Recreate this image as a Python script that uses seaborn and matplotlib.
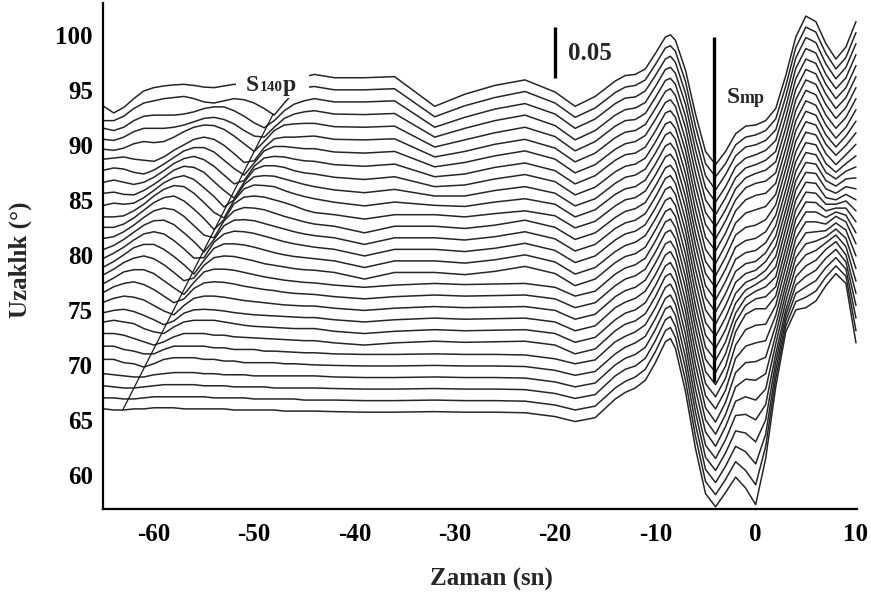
import matplotlib
matplotlib.use("Agg")
import matplotlib.pyplot as plt
from matplotlib.patches import Rectangle
import pandas as pd
import seaborn as sns

times = [-65, -64, -63, -62, -61, -60, -59, -58, -57, -56, -55, -54, -53, -52, -51, -50, -49, -48, -47, -46, -45, -44,
         -42, -39, -36, -32, -29, -26, -23, -20, -18, -16,
         -14, -13, -12, -11, -10, -9, -8.5, -8, -7, -6, -5, -4, -3, -2, -1, 0, 1, 2, 3, 4, 5, 6, 7, 8, 9, 10]

distances = list(range(66, 95))

# trace deflections (in plotted degrees) at each time
amp_66 = [0.0, -0.1, -0.1, 0.0, 0.0, 0.1, 0.1, 0.1, 0.0, 0.0, 0.0, 0.0, 0.0, -0.1, -0.1, -0.1, -0.1, -0.1, -0.2, -0.2, -0.2, -0.2,
          -0.25, -0.3, -0.3, -0.25, -0.3, -0.3, -0.35, -0.7, -1.15, -0.8,
          0.9, 1.5, 1.9, 2.6, 4.2, 6.1, 6.4, 5.5, 1.6, -3.6, -7.7, -8.9, -7.6, -6.2, -7.2, -8.7, -4.5, 2.0, 7.0, 9.0, 9.2, 9.8, 11.2, 12.3, 11.4, 6.0]
amp_67 = [0.0, 0.0, -0.1, -0.1, 0.0, 0.1, 0.1, 0.1, 0.1, 0.1, 0.1, 0.0, 0.0, 0.0, 0.0, -0.1, -0.1, -0.1, -0.1, -0.1, -0.2, -0.2,
          -0.2, -0.25, -0.25, -0.2, -0.25, -0.25, -0.3, -0.65, -1.1, -0.75,
          0.9, 1.5, 1.9, 2.6, 4.2, 6.1, 6.4, 5.5, 1.6, -3.5, -7.6, -8.8, -7.4, -5.8, -6.6, -7.9, -4.4, 1.75, 6.5, 8.75, 9.15, 9.7, 11.0, 12.0, 11.05, 6.1]
amp_68 = [0.1, 0.0, -0.1, -0.1, 0.0, 0.1, 0.2, 0.2, 0.2, 0.2, 0.1, 0.1, 0.1, 0.0, 0.0, 0.0, 0.0, -0.1, -0.1, -0.1, -0.1, -0.1,
          -0.15, -0.2, -0.2, -0.15, -0.2, -0.2, -0.25, -0.6, -1.05, -0.7,
          1.0, 1.6, 1.9, 2.6, 4.2, 6.1, 6.4, 5.5, 1.7, -3.4, -7.5, -8.7, -7.2, -5.4, -5.9, -7.0, -4.3, 1.5, 6.0, 8.5, 9.1, 9.65, 10.85, 11.75, 10.7, 6.25]
amp_69 = [0.2, 0.1, 0.0, -0.1, -0.1, 0.1, 0.2, 0.3, 0.3, 0.3, 0.2, 0.2, 0.1, 0.1, 0.1, 0.0, 0.0, 0.0, 0.0, 0.0, 0.0, 0.0,
          -0.1, -0.15, -0.15, -0.1, -0.15, -0.15, -0.2, -0.55, -1.0, -0.65,
          1.0, 1.6, 1.95, 2.6, 4.2, 6.1, 6.35, 5.5, 1.7, -3.3, -7.4, -8.6, -7.0, -5.0, -5.2, -6.0, -4.0, 1.25, 5.5, 8.25, 9.05, 9.6, 10.7, 11.5, 10.35, 6.4]
amp_70 = [0.5, 0.5, 0.2, 0.1, -0.2, 0.1, 0.5, 0.65, 0.65, 0.65, 0.5, 0.5, 0.35, 0.35, 0.2, 0.2, 0.2, 0.2, 0.1, 0.1, 0.05, 0.0,
          -0.05, -0.1, -0.1, -0.05, -0.1, -0.1, -0.15, -0.5, -0.95, -0.6,
          1.0, 1.6, 2.0, 2.6, 4.2, 6.05, 6.35, 5.5, 1.8, -3.3, -7.3, -8.5, -6.8, -4.6, -4.5, -5.0, -3.6, 1.0, 5.0, 8.0, 9.0, 9.5, 10.5, 11.2, 10.0, 6.5]
amp_71 = [0.7, 0.7, 0.4, 0.25, 0.0, 0.0, 0.4, 0.7, 0.7, 0.7, 0.7, 0.55, 0.55, 0.4, 0.4, 0.4, 0.25, 0.25, 0.2, 0.15, 0.1, 0.1,
          0.0, -0.05, -0.05, 0.0, -0.05, -0.05, -0.1, -0.45, -0.9, -0.55,
          1.1, 1.6, 2.0, 2.65, 4.2, 6.05, 6.35, 5.5, 1.8, -3.2, -7.1, -8.4, -6.6, -4.3, -3.9, -4.2, -3.2, 0.9, 4.75, 7.9, 9.0, 9.4, 10.1, 10.8, 9.75, 6.6]
amp_72 = [0.85, 0.85, 0.7, 0.4, 0.1, -0.2, 0.1, 0.55, 0.85, 0.85, 0.85, 0.7, 0.7, 0.55, 0.5, 0.45, 0.4, 0.35, 0.3, 0.25, 0.2, 0.2,
          0.0, -0.2, 0.0, 0.15, 0.05, 0.1, 0.15, -0.2, -1.0, -0.55,
          1.1, 1.7, 2.0, 2.65, 4.2, 6.05, 6.3, 5.5, 1.9, -3.1, -7.0, -8.3, -6.5, -4.0, -3.3, -3.4, -2.8, 0.75, 4.5, 7.75, 9.0, 9.25, 9.65, 10.35, 9.5, 6.75]
amp_73 = [0.9, 1.05, 0.9, 0.75, 0.3, 0.0, -0.15, 0.45, 0.9, 1.05, 1.05, 1.05, 0.9, 0.75, 0.6, 0.5, 0.45, 0.4, 0.35, 0.3, 0.3, 0.3,
          0.05, -0.15, 0.05, 0.2, 0.1, 0.15, 0.2, -0.15, -0.95, -0.5,
          1.1, 1.7, 2.0, 2.65, 4.2, 6.0, 6.3, 5.5, 1.9, -3.0, -6.9, -8.2, -6.4, -3.7, -2.8, -2.7, -2.3, 0.6, 4.25, 7.6, 9.0, 9.1, 9.2, 9.9, 9.25, 6.9]
amp_74 = [0.75, 0.95, 1.05, 0.85, 0.5, 0.1, -0.35, 0.0, 0.7, 1.0, 1.05, 1.0, 0.9, 0.75, 0.65, 0.55, 0.5, 0.45, 0.4, 0.35, 0.3, 0.3,
          0.1, -0.1, 0.1, 0.25, 0.15, 0.2, 0.25, -0.1, -0.9, -0.45,
          1.2, 1.7, 2.05, 2.7, 4.2, 6.0, 6.3, 5.5, 1.9, -2.9, -6.8, -8.0, -6.3, -3.4, -2.3, -2.0, -1.8, 0.5, 4.0, 7.5, 9.0, 9.0, 8.8, 9.5, 9.0, 7.0]
amp_75 = [0.7, 1.05, 1.25, 1.15, 0.9, 0.4, -0.1, -0.45, 0.4, 1.05, 1.25, 1.25, 1.15, 1.0, 0.85, 0.75, 0.65, 0.55, 0.45, 0.4, 0.35, 0.35,
          0.15, -0.05, 0.15, 0.3, 0.2, 0.25, 0.3, -0.05, -0.85, -0.4,
          1.2, 1.75, 2.05, 2.7, 4.25, 6.0, 6.25, 5.5, 2.0, -2.8, -6.7, -7.9, -6.2, -3.2, -1.8, -1.4, -1.3, 0.4, 3.9, 7.4, 8.9, 8.9, 8.4, 8.9, 8.6, 7.0]
amp_76 = [0.6, 1.1, 1.4, 1.55, 1.3, 0.85, 0.25, -0.35, 0.0, 0.95, 1.45, 1.55, 1.5, 1.35, 1.15, 1.0, 0.85, 0.75, 0.6, 0.5, 0.45, 0.4,
          0.2, 0.0, 0.2, 0.35, 0.25, 0.3, 0.35, 0.0, -0.8, -0.35,
          1.2, 1.8, 2.1, 2.7, 4.25, 6.0, 6.25, 5.5, 2.0, -2.7, -6.6, -7.8, -6.1, -3.0, -1.4, -0.9, -0.9, 0.25, 3.75, 7.25, 8.8, 8.75, 8.0, 8.25, 8.25, 7.0]
amp_77 = [0.4, 0.9, 1.45, 1.65, 1.65, 1.3, 0.65, 0.0, -0.6, 0.5, 1.45, 1.7, 1.7, 1.6, 1.4, 1.2, 1.0, 0.85, 0.7, 0.6, 0.5, 0.45,
          0.25, 0.05, 0.25, 0.4, 0.3, 0.35, 0.4, 0.05, -0.75, -0.3,
          1.25, 1.8, 2.1, 2.7, 4.25, 6.0, 6.25, 5.5, 2.1, -2.7, -6.5, -7.7, -6.0, -3.1, -1.6, -1.0, -0.8, 0.1, 3.6, 7.1, 8.7, 8.6, 7.6, 7.6, 7.9, 7.0]
amp_78 = [0.2, 0.7, 1.3, 1.7, 1.9, 1.65, 1.1, 0.4, -0.35, -0.1, 1.05, 1.75, 1.9, 1.85, 1.65, 1.45, 1.2, 1.05, 0.9, 0.75, 0.65, 0.6,
          0.4, -0.2, 0.4, 0.4, 0.2, 0.5, 0.95, 0.3, -0.8, -0.2,
          1.3, 1.85, 2.1, 2.7, 4.25, 5.95, 6.2, 5.5, 2.1, -2.6, -6.4, -7.6, -5.9, -3.3, -1.9, -1.3, -0.9, 0.0, 3.5, 7.0, 8.6, 8.5, 7.2, 7.0, 7.5, 7.0]
amp_79 = [-0.1, 0.4, 1.0, 1.65, 1.95, 1.95, 1.5, 0.85, 0.1, -0.75, 0.5, 1.6, 2.0, 2.0, 1.9, 1.7, 1.45, 1.2, 1.0, 0.85, 0.75, 0.65,
          0.45, -0.15, 0.45, 0.45, 0.25, 0.55, 1.0, 0.35, -0.75, -0.15,
          1.3, 1.85, 2.15, 2.75, 4.25, 5.95, 6.2, 5.5, 2.2, -2.5, -6.3, -7.5, -5.8, -3.4, -2.2, -1.7, -1.1, -0.1, 3.4, 6.9, 8.5, 8.4, 7.0, 6.6, 7.2, 7.0]
amp_80 = [-0.3, 0.15, 0.7, 1.35, 1.9, 2.1, 1.9, 1.3, 0.55, -0.3, -0.25, 1.15, 1.9, 2.15, 2.1, 1.95, 1.7, 1.45, 1.2, 1.0, 0.85, 0.7,
          0.5, -0.1, 0.5, 0.5, 0.3, 0.6, 1.05, 0.4, -0.7, -0.1,
          1.35, 1.9, 2.15, 2.75, 4.25, 5.95, 6.2, 5.5, 2.2, -2.4, -6.15, -7.4, -5.7, -3.5, -2.5, -2.1, -1.4, -0.15, 3.25, 6.75, 8.4, 8.25, 6.75, 6.25, 6.9, 7.0]
amp_81 = [-0.5, -0.15, 0.4, 1.05, 1.7, 2.1, 2.15, 1.75, 1.0, 0.2, -0.75, 0.4, 1.65, 2.15, 2.2, 2.1, 1.85, 1.6, 1.35, 1.1, 0.9, 0.75,
          0.55, -0.05, 0.55, 0.55, 0.35, 0.65, 1.1, 0.45, -0.65, -0.05,
          1.4, 1.9, 2.15, 2.75, 4.25, 5.95, 6.2, 5.5, 2.2, -2.3, -6.0, -7.3, -5.6, -3.5, -2.7, -2.4, -1.6, -0.2, 3.1, 6.6, 8.3, 8.1, 6.5, 5.9, 6.6, 7.0]
amp_82 = [-0.5, -0.35, 0.1, 0.7, 1.4, 2.0, 2.25, 2.1, 1.5, 0.65, -0.2, -0.45, 1.1, 2.0, 2.3, 2.25, 2.1, 1.8, 1.5, 1.25, 1.0, 0.8,
          0.6, 0.0, 0.6, 0.6, 0.4, 0.7, 1.15, 0.5, -0.6, 0.0,
          1.4, 1.95, 2.2, 2.75, 4.25, 5.9, 6.15, 5.5, 2.3, -2.2, -5.9, -7.2, -5.5, -3.5, -2.8, -2.6, -1.8, -0.3, 3.0, 6.5, 8.2, 8.0, 6.3, 5.5, 6.3, 7.0]
amp_83 = [-0.5, -0.5, -0.2, 0.35, 1.05, 1.75, 2.2, 2.35, 1.9, 1.15, 0.3, -0.7, 0.2, 1.65, 2.25, 2.35, 2.25, 2.0, 1.75, 1.45, 1.1, 0.85,
          0.65, 0.25, 0.65, 0.65, 0.45, 0.75, 1.0, 0.55, -0.55, 0.05,
          1.45, 2.0, 2.2, 2.8, 4.25, 5.9, 6.15, 5.5, 2.3, -2.1, -5.8, -7.1, -5.4, -3.4, -2.8, -2.6, -1.9, -0.35, 2.9, 6.4, 8.15, 7.9, 6.2, 5.2, 6.1, 7.05]
amp_84 = [-0.55, -0.55, -0.45, 0.0, 0.6, 1.35, 1.95, 2.3, 2.2, 1.6, 0.75, -0.15, -0.65, 0.95, 2.0, 2.35, 2.3, 2.2, 1.85, 1.55, 1.3, 1.1,
          0.78, 0.45, 0.8, 0.5, 0.4, 0.8, 1.1, 0.6, -0.55, 0.1,
          1.5, 2.0, 2.2, 2.8, 4.25, 5.9, 6.15, 5.5, 2.4, -2.1, -5.7, -7.0, -5.3, -3.3, -2.7, -2.5, -1.9, -0.4, 2.85, 6.35, 8.1, 7.8, 6.05, 5.05, 5.95, 7.1]
amp_85 = [-0.5, -0.3, -0.4, -0.3, 0.2, 0.85, 1.55, 2.0, 2.2, 1.85, 1.1, 0.3, -0.65, 0.0, 1.4, 2.1, 2.2, 2.15, 1.9, 1.65, 1.4, 1.2,
          0.9, 0.65, 0.95, 0.35, 0.35, 0.85, 1.2, 0.6, -0.55, 0.1,
          1.5, 2.05, 2.25, 2.8, 4.25, 5.9, 6.15, 5.5, 2.4, -2.0, -5.6, -6.9, -5.2, -3.2, -2.5, -2.3, -1.8, -0.45, 2.8, 6.3, 8.05, 7.7, 5.9, 4.8, 5.8, 7.15]
amp_86 = [-0.4, -0.3, -0.5, -0.55, -0.15, 0.4, 1.05, 1.7, 2.05, 1.95, 1.5, 0.65, -0.15, -0.85, 0.6, 1.75, 2.1, 2.1, 1.95, 1.65, 1.45, 1.35,
          1.05, 0.85, 1.1, 0.2, 0.35, 0.9, 1.3, 0.65, -0.55, 0.15,
          1.55, 2.05, 2.25, 2.8, 4.25, 5.9, 6.1, 5.5, 2.5, -1.9, -5.5, -6.8, -5.1, -3.1, -2.2, -1.9, -1.6, -0.5, 2.7, 6.2, 8.0, 7.6, 5.8, 4.6, 5.6, 7.2]
amp_87 = [-0.4, -0.2, -0.4, -0.6, -0.4, 0.05, 0.65, 1.3, 1.75, 1.95, 1.65, 1.05, 0.25, -0.55, -0.25, 1.05, 1.8, 1.95, 1.9, 1.7, 1.55, 1.5,
          1.2, 1.05, 1.25, 0.1, 0.35, 0.95, 1.35, 0.65, -0.55, 0.2,
          1.6, 2.1, 2.25, 2.8, 4.25, 5.9, 6.1, 5.5, 2.5, -1.8, -5.4, -6.65, -5.0, -3.0, -2.0, -1.6, -1.4, -0.5, 2.65, 6.15, 7.95, 7.55, 5.7, 4.5, 5.5, 7.2]
amp_88 = [-0.3, -0.1, -0.2, -0.5, -0.65, -0.3, 0.25, 0.85, 1.45, 1.75, 1.75, 1.35, 0.6, -0.15, -0.75, 0.35, 1.45, 1.85, 1.85, 1.75, 1.65, 1.65,
          1.35, 1.25, 1.4, 0.0, 0.4, 1.0, 1.45, 0.7, -0.55, 0.2,
          1.6, 2.1, 2.3, 2.85, 4.3, 5.85, 6.1, 5.5, 2.5, -1.7, -5.25, -6.55, -4.9, -3.0, -1.9, -1.5, -1.3, -0.55, 2.6, 6.1, 7.9, 7.5, 5.65, 4.4, 5.4, 7.2]
amp_89 = [-0.3, -0.2, -0.1, -0.3, -0.4, -0.5, -0.1, 0.5, 1.0, 1.5, 1.7, 1.5, 0.95, 0.2, -0.6, -0.45, 0.75, 1.55, 1.7, 1.7, 1.75, 1.8,
          1.5, 1.45, 1.55, -0.1, 0.4, 1.05, 1.5, 0.7, -0.55, 0.25,
          1.65, 2.15, 2.3, 2.85, 4.3, 5.85, 6.1, 5.5, 2.6, -1.6, -5.15, -6.45, -4.9, -3.0, -2.0, -1.6, -1.3, -0.55, 2.55, 6.05, 7.85, 7.45, 5.6, 4.3, 5.3, 7.2]
amp_90 = [-0.4, -0.5, -0.3, 0.1, 0.3, 0.2, 0.3, 0.7, 1.2, 1.6, 1.8, 1.75, 1.4, 0.8, 0.1, -0.6, 0.3, 1.3, 1.8, 1.9, 1.95, 1.95,
          1.65, 1.6, 1.7, -0.2, 0.45, 1.1, 1.6, 0.75, -0.55, 0.3,
          1.7, 2.2, 2.3, 2.85, 4.3, 5.85, 6.05, 5.5, 2.6, -1.5, -5.0, -6.35, -4.8, -3.0, -2.1, -1.8, -1.4, -0.6, 2.5, 6.0, 7.8, 7.4, 5.5, 4.2, 5.2, 7.2]
amp_91 = [-0.5, -0.6, -0.3, 0.2, 0.5, 0.5, 0.5, 0.6, 0.8, 1.1, 1.4, 1.5, 1.3, 0.9, 0.3, -0.2, -0.3, 0.6, 1.4, 1.8, 2.0, 2.1,
          1.8, 1.75, 1.85, -0.3, 0.5, 1.2, 1.7, 0.75, -0.55, 0.3,
          1.7, 2.2, 2.35, 2.85, 4.3, 5.85, 6.05, 5.5, 2.7, -1.45, -4.9, -6.2, -4.8, -3.0, -2.2, -1.9, -1.5, -0.6, 2.45, 5.95, 7.75, 7.35, 5.4, 4.1, 5.1, 7.2]
amp_92 = [-0.5, -0.7, -0.4, 0.2, 0.6, 0.7, 0.7, 0.7, 0.8, 1.0, 1.3, 1.45, 1.45, 1.1, 0.6, 0.0, -0.45, 0.2, 1.1, 1.7, 2.0, 2.2,
          1.9, 1.9, 2.0, -0.4, 0.5, 1.25, 1.75, 0.8, -0.5, 0.35,
          1.75, 2.25, 2.35, 2.9, 4.3, 5.8, 6.05, 5.5, 2.7, -1.4, -4.8, -6.1, -4.7, -3.0, -2.2, -2.0, -1.6, -0.65, 2.4, 5.9, 7.75, 7.3, 5.35, 4.0, 5.05, 7.2]
amp_93 = [-0.8, -0.8, -0.4, 0.3, 0.8, 1.0, 1.2, 1.3, 1.4, 1.2, 0.9, 0.8, 1.0, 1.2, 1.1, 0.8, 0.3, -0.3, 0.8, 1.8, 2.2, 2.3,
          2.0, 2.0, 2.1, -0.45, 0.55, 1.3, 1.85, 0.8, -0.5, 0.35,
          1.75, 2.25, 2.4, 2.9, 4.3, 5.8, 6.0, 5.5, 2.75, -1.3, -4.7, -5.9, -4.7, -3.0, -2.3, -2.1, -1.7, -0.65, 2.35, 5.85, 7.7, 7.25, 5.3, 3.9, 4.95, 7.2]
amp_94 = [-0.5, -1.1, -0.6, 0.2, 0.9, 1.2, 1.35, 1.45, 1.5, 1.4, 1.25, 1.2, 1.35, 1.5, 1.4, 1.2, 0.9, 0.4, 0.5, 1.5, 2.2, 2.4,
          2.1, 2.1, 2.2, -0.5, 0.6, 1.4, 1.9, 0.8, -0.5, 0.4,
          1.8, 2.3, 2.4, 2.9, 4.3, 5.8, 6.0, 5.5, 2.8, -1.2, -4.6, -5.8, -4.6, -3.0, -2.3, -2.2, -1.8, -0.7, 2.3, 5.8, 7.7, 7.2, 5.2, 3.8, 4.9, 7.2]

# phase picks and scale bar
s140p_pick_time = [-63.1, -48.1]
s140p_pick_dist = [65.9, 92.8]
smp_pick_time = -4.15
smp_pick_dist = [68.4, 99.8]
scale_time = -20.0
scale_dist = [96.1, 100.7]

# ---------------- build long-form table ----------------
amps = [amp_66, amp_67, amp_68, amp_69, amp_70, amp_71, amp_72, amp_73, amp_74, amp_75,
        amp_76, amp_77, amp_78, amp_79, amp_80, amp_81, amp_82, amp_83, amp_84, amp_85,
        amp_86, amp_87, amp_88, amp_89, amp_90, amp_91, amp_92, amp_93, amp_94]
rows = []
for d, amp in zip(distances, amps):
    if len(amp) != len(times):
        raise ValueError(f"trace {d}: {len(amp)} values")
    for t, a in zip(times, amp):
        rows.append((d, t, d + a))
df = pd.DataFrame(rows, columns=["distance", "time", "y"])

# ---------------- plot ----------------
sns.set_style("white")
plt.rcParams["font.family"] = ["Liberation Serif", "DejaVu Serif"]
plt.rcParams["font.weight"] = "bold"
plt.rcParams["axes.unicode_minus"] = False

fig = plt.figure(figsize=(8.71, 5.94), dpi=100)
ax = fig.add_axes([0.1179, 0.1431, 0.866, 0.852])

sns.lineplot(data=df, x="time", y="y", units="distance", estimator=None, sort=False,
             color="#262626", linewidth=1.1, ax=ax, legend=False)

ax.set_xlim(-65.1, 10.1)
ax.set_ylim(56.9, 102.9)
ax.set_xticks(range(-60, 11, 10))
ax.set_yticks(range(60, 101, 5))

for side in ("top", "right"):
    ax.spines[side].set_visible(False)
for side in ("left", "bottom"):
    ax.spines[side].set_linewidth(1.6)
    ax.spines[side].set_color("black")

ax.tick_params(axis="both", direction="out", length=4, width=1.2, colors="black", labelsize=18)
ax.tick_params(axis="y", pad=3)
ax.tick_params(axis="x", pad=6)
for lbl in ax.get_xticklabels() + ax.get_yticklabels():
    lbl.set_fontweight("bold")

ax.set_xlabel("Zaman (sn)", fontsize=18, fontweight="bold")
ax.set_ylabel("Uzaklık (°)", fontsize=18, fontweight="bold")
ax.xaxis.set_label_coords(0.515, -0.117)
ax.yaxis.set_label_coords(-0.094, 0.492)

# phase pick lines and scale bar
ax.plot(s140p_pick_time, s140p_pick_dist, color="#1a1a1a", linewidth=0.9, zorder=3)
ax.vlines(smp_pick_time, smp_pick_dist[0], smp_pick_dist[1], color="black", linewidth=2.4, zorder=3)
ax.vlines(scale_time, scale_dist[0], scale_dist[1], color="black", linewidth=2.4, zorder=3)

# S140p label on white box
ax.add_patch(Rectangle((-51.8, 94.3), 7.3, 2.1, facecolor="white", edgecolor="none", zorder=4))
ax.text(-50.8, 94.85, "S", fontsize=17, fontweight="bold", ha="left", va="baseline", zorder=5)
ax.annotate("140", xy=(-50.8, 94.85), xytext=(9.6, 0), textcoords="offset points",
            fontsize=11, fontweight="bold", ha="left", va="baseline", zorder=5)
ax.annotate("p", xy=(-50.8, 94.85), xytext=(26.0, 0), textcoords="offset points",
            fontsize=17, fontweight="bold", ha="left", va="baseline", zorder=5)

# Smp label
ax.text(-2.9, 93.8, "S", fontsize=17, fontweight="bold", ha="left", va="baseline", zorder=5)
ax.annotate("mp", xy=(-2.9, 93.8), xytext=(9.6, 0), textcoords="offset points",
            fontsize=13, fontweight="bold", ha="left", va="baseline", zorder=5)

# scale label
ax.text(-18.7, 97.7, "0.05", fontsize=18, fontweight="bold", ha="left", va="baseline", zorder=5)

fig.savefig("out.png", dpi=100, facecolor="white")
